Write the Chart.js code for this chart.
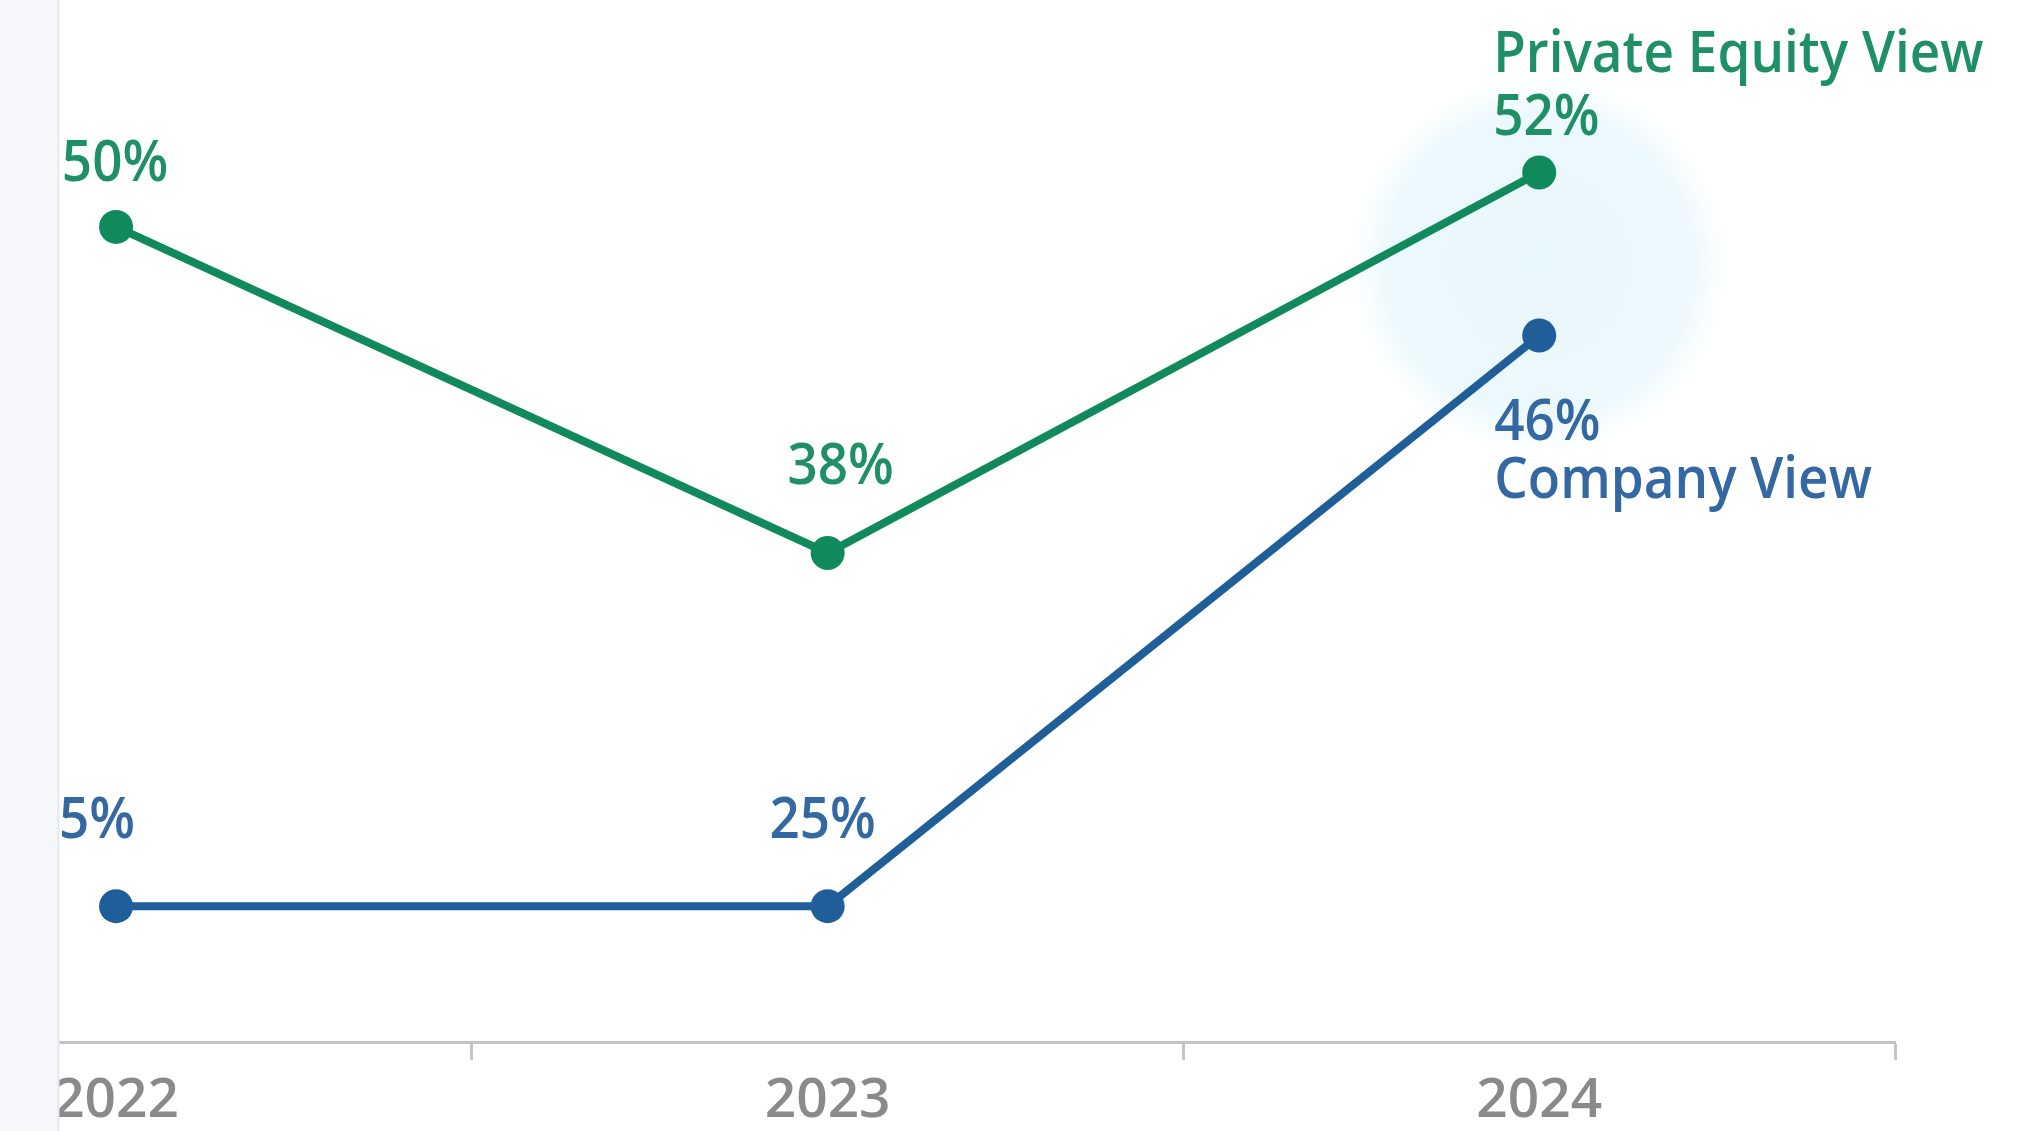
<!DOCTYPE html>
<html>
<head>
<meta charset="utf-8">
<script src="https://cdn.jsdelivr.net/npm/chart.js@4.4.1/dist/chart.umd.min.js"></script>
<style>
  html, body { margin: 0; padding: 0; background: #ffffff; }
  #wrap { position: relative; width: 2021px; height: 1131px; }
</style>
</head>
<body>
<div id="wrap"><canvas id="viewChart"></canvas></div>
<script>
// Chart data
const years = ["2022", "2023", "2024"];
const peValues = [50, 38, 52];
// plotted positions as they appear in the picture
const companyValues = [25, 25, 46];
// value labels as printed next to each point
const peLabels = ["50%", "38%", "52%"];
const companyLabels = ["5%", "25%", "46%"];

const GREEN = "#108a5c";
const GREEN_TEXT = "#1f9065";
const BLUE = "#205e9a";
const BLUE_TEXT = "#3368a2";
const LABEL_FONT = '600 57px "Open Sans", "Noto Sans", sans-serif';
const SQUEEZE = 0.93;

function toPoints(values) {
  return values.map((v, i) => ({ x: i, y: v }));
}

// draws text slightly condensed
function drawText(ctx, text, x, y, align) {
  ctx.save();
  ctx.font = LABEL_FONT;
  const w = ctx.measureText(text).width * SQUEEZE;
  let left = x;
  if (align === "center") left = x - w / 2;
  else if (align === "right") left = x - w;
  ctx.translate(left, y);
  ctx.scale(SQUEEZE, 1);
  ctx.textAlign = "left";
  ctx.textBaseline = "alphabetic";
  ctx.fillText(text, 0, 0);
  ctx.restore();
}

// pale halo behind the latest year
const haloPlugin = {
  id: "halo",
  beforeDatasetsDraw(chart) {
    const { ctx, scales } = chart;
    const cx = scales.x.getPixelForValue(years.length - 1);
    const y1 = scales.y.getPixelForValue(peValues[peValues.length - 1]);
    const y2 = scales.y.getPixelForValue(companyValues[companyValues.length - 1]);
    const cy = (y1 + y2) / 2 + 10;
    const r = 190;
    const g = ctx.createRadialGradient(cx, cy, 0, cx, cy, r);
    g.addColorStop(0, "rgba(232, 247, 252, 1)");
    g.addColorStop(0.8, "rgba(234, 248, 252, 0.9)");
    g.addColorStop(1, "rgba(240, 250, 253, 0)");
    ctx.save();
    ctx.fillStyle = g;
    ctx.beginPath();
    ctx.arc(cx, cy, r, 0, Math.PI * 2);
    ctx.fill();
    ctx.restore();
  },
};

// value labels and series names
const labelPlugin = {
  id: "valueLabels",
  afterDatasetsDraw(chart, args, opts) {
    const { ctx } = chart;
    chart.data.datasets.forEach((ds, di) => {
      const meta = chart.getDatasetMeta(di);
      const place = opts.place[di];
      ctx.fillStyle = ds.textColor;
      meta.data.forEach((pt, i) => {
        const p = place[i];
        drawText(ctx, ds.valueLabels[i], pt.x + p.dx, pt.y + p.dy, p.align);
        if (p.name) {
          drawText(ctx, ds.label, pt.x + p.dx, pt.y + p.name, p.align);
        }
      });
    });
  },
};

// grey strip on the left edge
const sidePlugin = {
  id: "sidePanel",
  afterDraw(chart) {
    const { ctx, chartArea } = chart;
    ctx.save();
    ctx.fillStyle = "#f5f7fb";
    ctx.fillRect(0, 0, chartArea.left, chart.height);
    ctx.strokeStyle = "#e3e9f1";
    ctx.lineWidth = 2;
    ctx.beginPath();
    ctx.moveTo(chartArea.left + 0.5, 0);
    ctx.lineTo(chartArea.left + 0.5, chart.height);
    ctx.stroke();
    ctx.restore();
  },
};

const ctx = document.getElementById("viewChart").getContext("2d");

new Chart(ctx, {
  type: "line",
  data: {
    datasets: [
      {
        label: "Private Equity View",
        data: toPoints(peValues),
        valueLabels: peLabels,
        textColor: GREEN_TEXT,
        borderColor: GREEN,
        backgroundColor: GREEN,
        borderWidth: 8,
        pointRadius: 17,
        pointBorderWidth: 0,
        pointBackgroundColor: GREEN,
        tension: 0,
        clip: false,
      },
      {
        label: "Company View",
        data: toPoints(companyValues),
        valueLabels: companyLabels,
        textColor: BLUE_TEXT,
        borderColor: BLUE,
        backgroundColor: BLUE,
        borderWidth: 8,
        pointRadius: 17,
        pointBorderWidth: 0,
        pointBackgroundColor: BLUE,
        tension: 0,
        clip: false,
      },
    ],
  },
  options: {
    responsive: true,
    maintainAspectRatio: false,
    animation: false,
    layout: { autoPadding: false, padding: { left: 58, right: 126, top: 0, bottom: 0 } },
    scales: {
      x: {
        type: "linear",
        min: -0.0816,
        max: 2.5,
        afterBuildTicks: (scale) => {
          scale.ticks = [0, 0.5, 1, 1.5, 2, 2.5].map((v) => ({ value: v }));
        },
        afterFit: (scale) => {
          scale.height = 89;
        },
        grid: {
          display: true,
          drawOnChartArea: false,
          drawTicks: true,
          tickLength: 18,
          tickWidth: 3,
          tickColor: (c) =>
            c.tick && Number.isInteger(c.tick.value) ? "rgba(0,0,0,0)" : "#c4c4c4",
        },
        border: { display: true, color: "#c4c4c4", width: 3 },
        ticks: {
          autoSkip: false,
          maxRotation: 0,
          padding: 8,
          color: "#8a8a8a",
          font: { family: '"Open Sans", "Noto Sans", sans-serif', size: 55, weight: "600" },
          callback: (v) => (Number.isInteger(v) ? years[v] : ""),
        },
      },
      y: {
        display: false,
        min: 20,
        max: 58.35,
      },
    },
    plugins: {
      legend: { display: false },
      tooltip: { enabled: false },
      valueLabels: {
        place: [
          [
            { dx: -1, dy: -46, align: "center" },
            { dx: 13, dy: -69, align: "center" },
            { dx: -46, dy: -38, align: "left", name: -101 },
          ],
          [
            { dx: -19, dy: -68, align: "center" },
            { dx: -5, dy: -68, align: "center" },
            { dx: -45, dy: 104, align: "left", name: 162 },
          ],
        ],
      },
    },
  },
  plugins: [haloPlugin, labelPlugin, sidePlugin],
});
</script>
</body>
</html>
